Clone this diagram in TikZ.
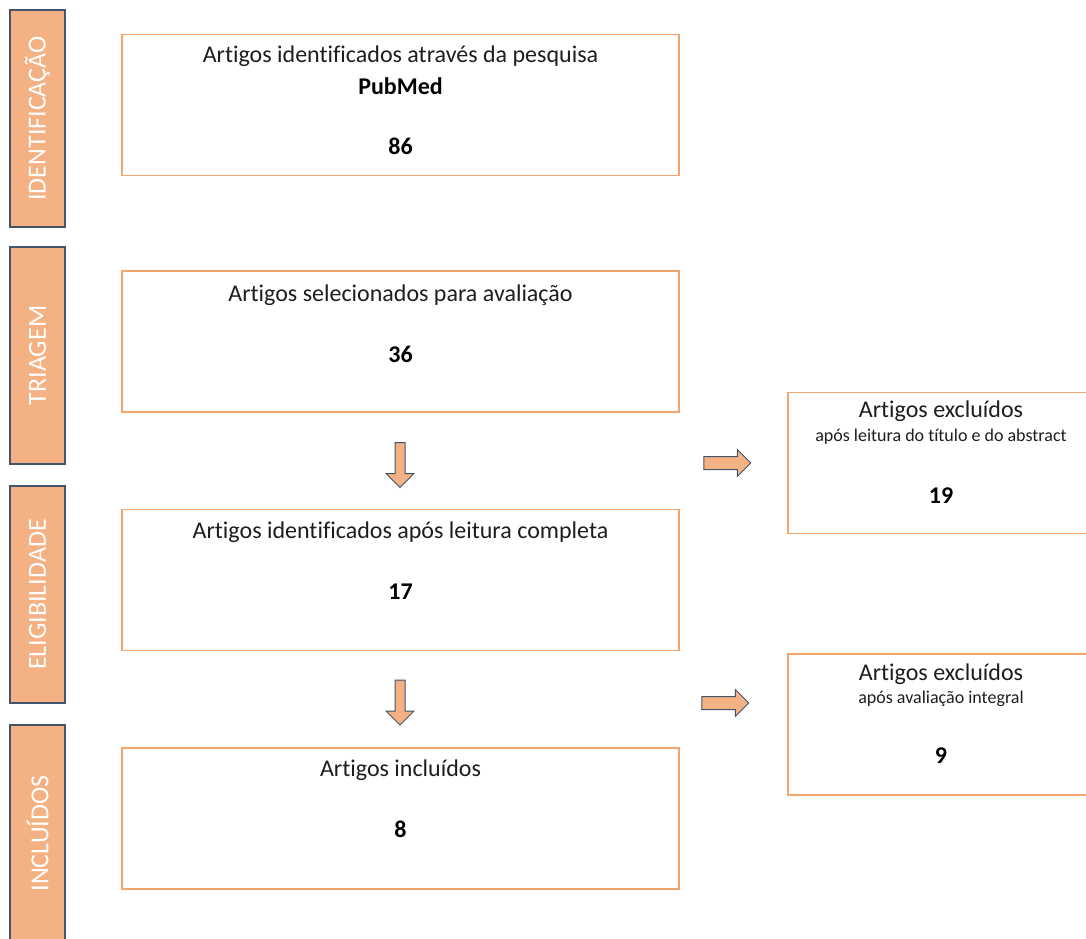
\documentclass[tikz,border=0pt]{standalone}
\usepackage{fontspec}
\setmainfont{Carlito}[Ligatures=NoCommon]
\usepackage{xcolor}
\usetikzlibrary{calc}
\usetikzlibrary{positioning}
\usetikzlibrary{shapes.arrows}
\definecolor{salmon}{RGB}{244,177,131}
\definecolor{rimorange}{RGB}{243,165,108}
\definecolor{slate}{RGB}{68,84,106}
\definecolor{ink}{RGB}{30,30,30}

\begin{document}
\begin{tikzpicture}[x=1pt, y=-1pt, font=\fontsize{24}{28}\selectfont, text=ink]
    \tikzstyle{phase}=[draw=slate, line width=1.6pt, fill=salmon, rectangle, rotate=90, minimum width=217pt, minimum height=55pt, inner sep=0pt, text=white, font=\fontsize{26}{28}\selectfont]
    \tikzstyle{block}=[draw=rimorange, line width=1.8pt, rectangle, fill=white, minimum width=557pt, minimum height=141pt, inner sep=0pt]
    \tikzstyle{excl}=[draw=rimorange, line width=1.8pt, rectangle, fill=white, minimum width=306pt, minimum height=141pt, inner sep=0pt]
    \tikzstyle{down}=[draw=slate, line width=1pt, fill=salmon, single arrow, shape border rotate=270, minimum height=45pt, minimum width=27pt, single arrow head extend=9pt, single arrow head indent=0pt, inner sep=4.5pt]
    \tikzstyle{side}=[draw=slate, line width=1pt, fill=salmon, single arrow, minimum height=47pt, minimum width=26pt, single arrow head extend=7pt, single arrow head indent=0pt, inner sep=6pt]
    \tikzstyle{sub}=[font=\fontsize{18}{21}\selectfont]
    \tikzstyle{num}=[font=\fontsize{24}{28}\selectfont\bfseries, text=black]

    \path[use as bounding box, clip] (0,0) rectangle (1086,938);

    % phases on the left
    \node[phase] (p1) at (37.5,118.5) {IDENTIFICAÇÃO};
    \node[phase] (p2) at (37.5,355.5) {TRIAGEM};
    \node[phase] (p3) at (37.5,594.5) {ELIGIBILIDADE};
    \node[phase] (p4) at (37.5,833.5) {INCLUÍDOS};

    % main column
    \node[block] (b1) at (400.5,105) {};
    \node[block] (b2) at (400.5,341.5) {};
    \node[block] (b3) at (400.5,580) {};
    \node[block] (b4) at (400.5,818.5) {};

    \node at ($(b1.north)+(0,23)$) {Artigos identificados através da pesquisa};
    \node[num] at ($(b1.north)+(0,53)$) {PubMed};
    \node[num] at ($(b1.north)+(0,113)$) {86};
    \node at ($(b2.north)+(0,25)$) {Artigos selecionados para avaliação};
    \node[num] at ($(b2.north)+(0,84)$) {36};
    \node at ($(b3.north)+(0,24)$) {Artigos identificados após leitura completa};
    \node[num] at ($(b3.north)+(0,83)$) {17};
    \node at ($(b4.north)+(0,23)$) {Artigos incluídos};
    \node[num] at ($(b4.north)+(0,82)$) {8};

    % excluded column
    \node[excl] (e1) at (941,463) {};
    \node[excl] (e2) at (941,724.5) {};

    \node at ($(e1.north)+(0,20)$) {Artigos excluídos};
    \node[sub] at ($(e1.north)+(0,45)$) {após leitura do título e do abstract};
    \node[num] at ($(e1.north)+(0,104)$) {19};
    \node at ($(e2.north)+(0,21)$) {Artigos excluídos};
    \node[sub] at ($(e2.north)+(0,46)$) {após avaliação integral};
    \node[num] at ($(e2.north)+(0,103)$) {9};

    % block arrows
    \node[down] (d1) at (400,462.5) {};
    \node[down] (d2) at (400,700) {};
    \node[side] (r1) at (724,463) {};
    \node[side] (r2) at (722,703) {};
\end{tikzpicture}
\end{document}
